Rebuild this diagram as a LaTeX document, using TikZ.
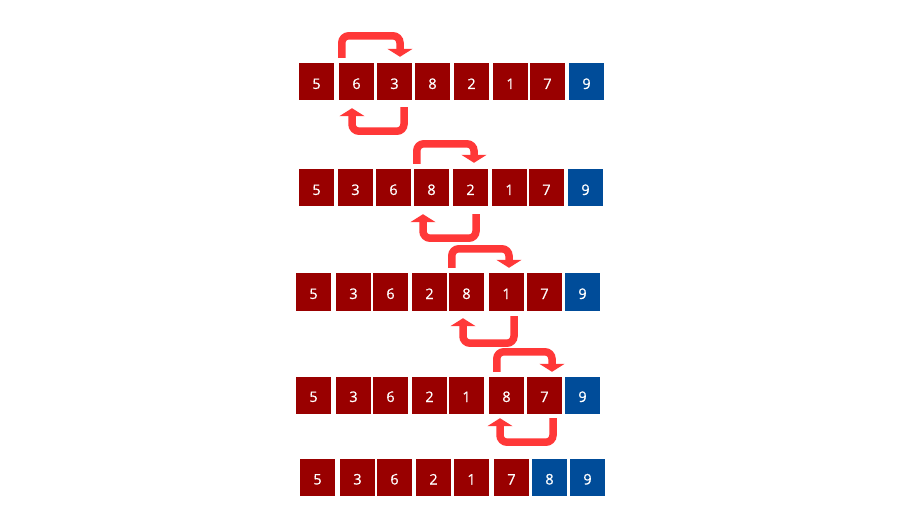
\documentclass[tikz,border=0pt]{standalone}
\usepackage{fontspec}
\setmainfont{Open Sans}
\newfontfamily\cellfont{Open Sans}[FakeBold=0.6]
\usepackage{tikz}
\usetikzlibrary{arrows.meta}
\definecolor{cellred}{RGB}{153,0,0}
\definecolor{cellblue}{RGB}{0,76,153}
\definecolor{swapcolor}{RGB}{255,56,56}
\tikzset{
  cell/.style={rectangle, fill=cellred, minimum width=35pt, minimum height=37pt, inner sep=0pt, text height=14pt, text=white, font=\cellfont\fontsize{14.5}{16}\selectfont},
  sorted/.style={cell, fill=cellblue},
  swaparrow/.style={-{Triangle[width=25pt,length=8pt]}, draw=swapcolor, line width=7.5pt, rounded corners=7pt}
}

\begin{document}
\begin{tikzpicture}[x=1pt, y=1pt]
    \useasboundingbox (0,0) rectangle (915,528);

    % Passe 1 : 6 et 3
    \node[cell] (r1c1) at (316.5,446) {5};
    \node[cell] (r1c2) at (356.5,446) {6};
    \node[cell] (r1c3) at (394.5,446) {3};
    \node[cell] (r1c4) at (432.5,446) {8};
    \node[cell] (r1c5) at (471.5,446) {2};
    \node[cell] (r1c6) at (510.5,446) {1};
    \node[cell] (r1c7) at (547.5,446) {7};
    \node[sorted] (r1c8) at (586.5,446) {9};
    \draw[swaparrow] ([xshift=3pt,yshift=5.5pt]r1c2.north west) -- ++(0,22) -| ([xshift=5.5pt,yshift=6.5pt]r1c3.north);
    \draw[swaparrow] ([xshift=9.5pt,yshift=-6.5pt]r1c3.south) -- ++(0,-24) -| ([xshift=-4.5pt,yshift=-7.5pt]r1c2.south);

    % Passe 2 : 8 et 2
    \node[cell] (r2c1) at (316.5,340) {5};
    \node[cell] (r2c2) at (355.5,340) {3};
    \node[cell] (r2c3) at (393.5,340) {6};
    \node[cell] (r2c4) at (431.5,340) {8};
    \node[cell] (r2c5) at (470.5,340) {2};
    \node[cell] (r2c6) at (509.5,340) {1};
    \node[cell] (r2c7) at (546.5,340) {7};
    \node[sorted] (r2c8) at (585.5,340) {9};
    \draw[swaparrow] ([xshift=3pt,yshift=5.5pt]r2c4.north west) -- ++(0,20) -| ([xshift=3.5pt,yshift=6.5pt]r2c5.north);
    \draw[swaparrow] ([xshift=5.5pt,yshift=-7.5pt]r2c5.south) -- ++(0,-24) -| ([xshift=-8.5pt,yshift=-7.5pt]r2c4.south);

    % Passe 3 : 8 et 1
    \node[cell] (r3c1) at (313.5,236) {5};
    \node[cell] (r3c2) at (353.5,236) {3};
    \node[cell] (r3c3) at (390.5,236) {6};
    \node[cell] (r3c4) at (429.5,236) {2};
    \node[cell] (r3c5) at (466.5,236) {8};
    \node[cell] (r3c6) at (506.5,236) {1};
    \node[cell] (r3c7) at (544.5,236) {7};
    \node[sorted] (r3c8) at (582.5,236) {9};
    \draw[swaparrow] ([xshift=3pt,yshift=5.5pt]r3c5.north west) -- ++(0,19) -| ([xshift=2.5pt,yshift=5.5pt]r3c6.north);
    \draw[swaparrow] ([xshift=7.5pt,yshift=-5.5pt]r3c6.south) -- ++(0,-27) -| ([xshift=-3.5pt,yshift=-7.5pt]r3c5.south);

    % Passe 4 : 8 et 7
    \node[cell] (r4c1) at (313.5,133) {5};
    \node[cell] (r4c2) at (353.5,133) {3};
    \node[cell] (r4c3) at (390.5,133) {6};
    \node[cell] (r4c4) at (429.5,133) {2};
    \node[cell] (r4c5) at (466.5,133) {1};
    \node[cell] (r4c6) at (506.5,133) {8};
    \node[cell] (r4c7) at (544.5,133) {7};
    \node[sorted] (r4c8) at (582.5,133) {9};
    \draw[swaparrow] ([xshift=8pt,yshift=4.5pt]r4c6.north west) -- ++(0,20) -| ([xshift=7.5pt,yshift=4.5pt]r4c7.north);
    \draw[swaparrow] ([xshift=8.5pt,yshift=-4.5pt]r4c7.south) -- ++(0,-24) -| ([xshift=-6.5pt,yshift=-4.5pt]r4c6.south);

    % Resultat
    \node[cell] (r5c1) at (317.5,50.5) {5};
    \node[cell] (r5c2) at (357.5,50.5) {3};
    \node[cell] (r5c3) at (394.5,50.5) {6};
    \node[cell] (r5c4) at (433.5,50.5) {2};
    \node[cell] (r5c5) at (471.5,50.5) {1};
    \node[cell] (r5c6) at (511.5,50.5) {7};
    \node[sorted] (r5c7) at (549.5,50.5) {8};
    \node[sorted] (r5c8) at (587.5,50.5) {9};
\end{tikzpicture}
\end{document}
